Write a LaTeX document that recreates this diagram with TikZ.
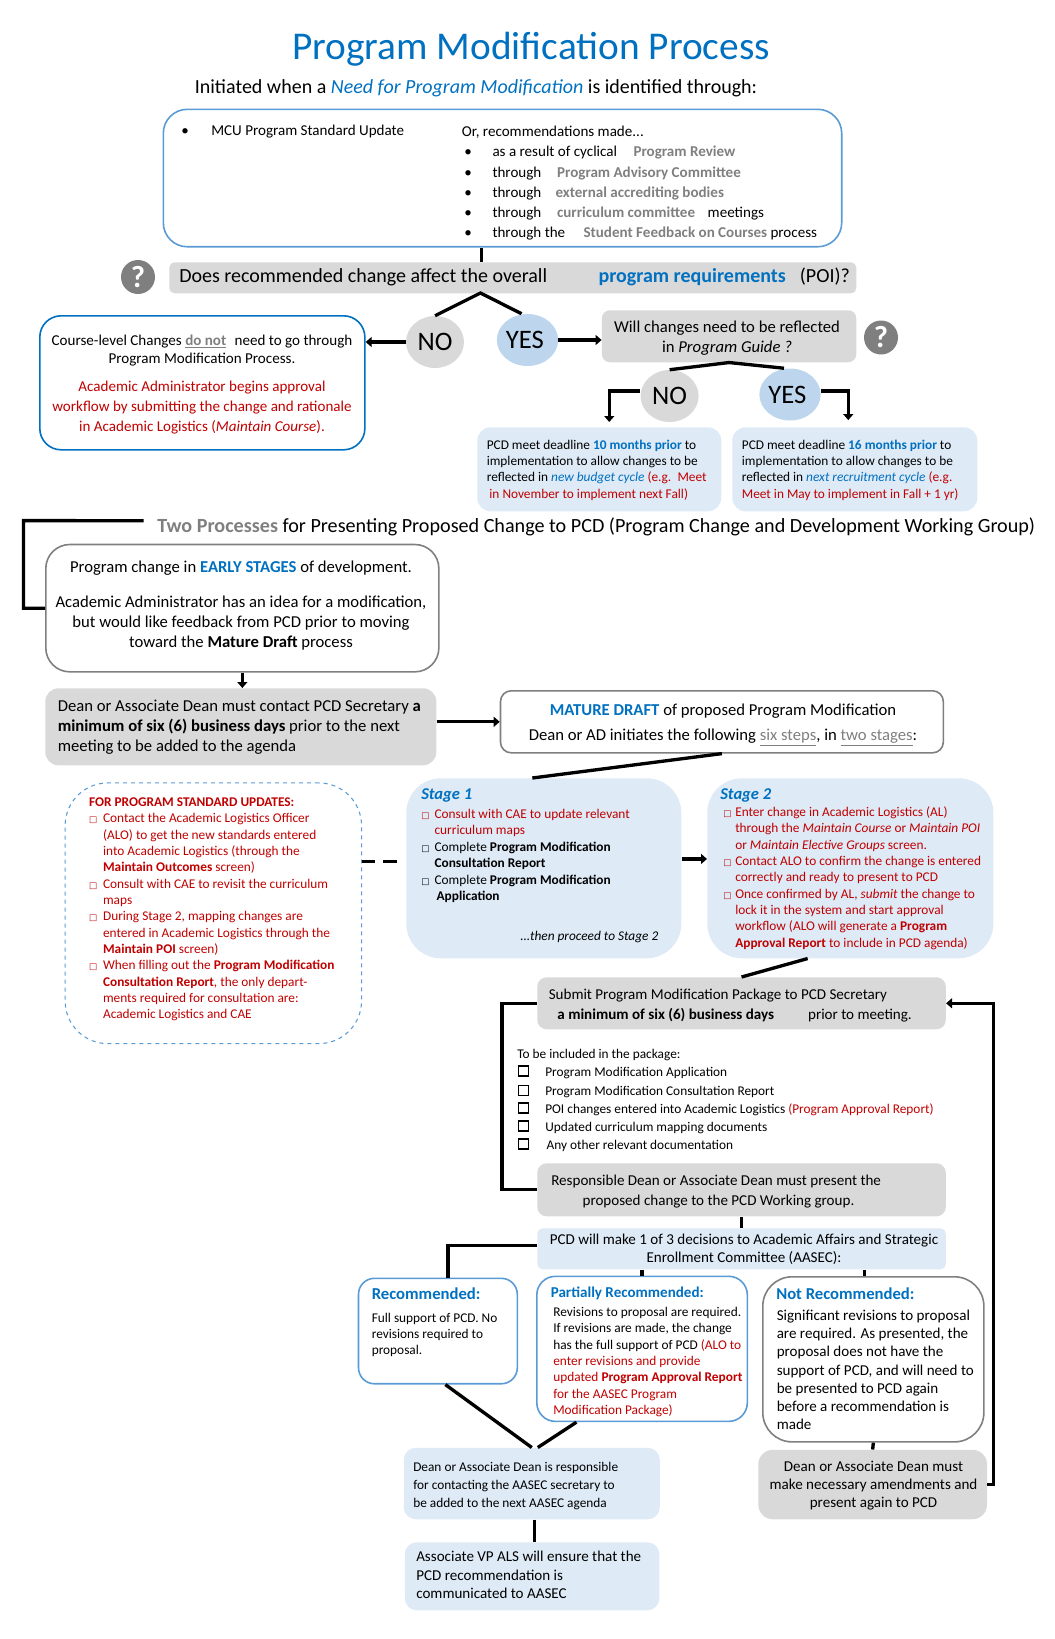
\documentclass[tikz,border=0pt]{standalone}
\usepackage{fontspec}
\setmainfont{Carlito}
\newfontfamily\symfont{DejaVu Sans}
\usetikzlibrary{arrows.meta,shapes.geometric}

\definecolor{titleblue}{HTML}{0070C0}
\definecolor{redtext}{HTML}{C00000}
\definecolor{graytext}{HTML}{7F7F7F}
\definecolor{panelgray}{HTML}{D9D9D9}
\definecolor{panelblue}{HTML}{DEEAF6}
\definecolor{circleblue}{HTML}{BDD6EE}
\definecolor{edgeblue}{HTML}{5B9BD5}

\newcommand{\blu}[1]{\textcolor{titleblue}{#1}}
\newcommand{\rd}[1]{\textcolor{redtext}{#1}}
\newcommand{\gry}[1]{\textcolor{graytext}{\textbf{#1}}}
\newcommand{\upto}[2]{\makebox[#1pt][l]{#2}}
\newcommand{\sq}{{\symfont\fontsize{6.5}{6.5}\selectfont □}}

\tikzset{
  panel/.style={anchor=north west,inner sep=0pt},
  graypanel/.style={panel,fill=panelgray},
  bluepanel/.style={panel,fill=panelblue},
  choice/.style={ellipse,inner sep=0pt,minimum width=43.5pt,minimum height=39pt,font=\fontsize{20}{24}\selectfont},
  qmark/.style={circle,fill=graytext,text=white,inner sep=0pt,minimum size=25.5pt,font=\bfseries\fontsize{23}{23}\selectfont},
  conn/.style={line width=2.5pt,black},
  arrowconn/.style={conn,-{Triangle[width=7.5pt,length=4.5pt]}},
  txt/.style={anchor=west,inner sep=0pt,align=left},
  ctxt/.style={anchor=center,inner sep=0pt,align=center},
  tick/.style={draw=black,line width=1.2pt,inner sep=0pt,minimum size=7.6pt},
  sizeA/.style={font=\fontsize{11.3}{15.15}\selectfont},
  sizeB/.style={font=\fontsize{10}{12.25}\selectfont},
  sizeC/.style={font=\fontsize{12.5}{15}\selectfont},
  sizeD/.style={font=\fontsize{10}{13.6}\selectfont},
  sizeE/.style={font=\fontsize{11.3}{13.7}\selectfont}
}

\begin{document}
\begin{tikzpicture}[x=0.75pt,y=0.75pt,yscale=-1,xscale=1]
\useasboundingbox (0,0) rectangle (1055,1639);

% Panels
\node[panel,draw=edgeblue,line width=1.2pt,rounded corners=18pt,minimum width=508.8pt,minimum height=103.1pt] (sources) at (162.5,108.5) {};
\node[graypanel,rounded corners=4pt,minimum width=515.3pt,minimum height=23.3pt] (overall) at (169,262) {};
\node[panel,draw=titleblue,line width=1.2pt,rounded corners=16pt,minimum width=243.8pt,minimum height=100.5pt] (course) at (39,315) {};
\node[graypanel,rounded corners=6pt,minimum width=190.8pt,minimum height=39pt] (guide) at (601.6,310) {};
\node[bluepanel,rounded corners=10pt,minimum width=183pt,minimum height=63pt] (budget) at (477,427) {};
\node[bluepanel,rounded corners=10pt,minimum width=183.8pt,minimum height=63pt] (recruit) at (732,427) {};
\node[panel,draw=graytext,line width=1.2pt,rounded corners=18pt,minimum width=294.8pt,minimum height=95.5pt] (early) at (45,543.7) {};
\node[graypanel,rounded corners=10pt,minimum width=293.3pt,minimum height=57.8pt] (contact) at (45,688) {};
\node[panel,draw=graytext,line width=1.2pt,rounded corners=8pt,minimum width=332.1pt,minimum height=46.5pt] (mature) at (499.7,690) {};
\node[panel,draw=edgeblue,dashed,line width=.8pt,rounded corners=32pt,minimum width=222.3pt,minimum height=195.5pt] (standard) at (64.6,782.4) {};
\node[bluepanel,rounded corners=26pt,minimum width=206.3pt,minimum height=135pt] (stageone) at (406,778) {};
\node[bluepanel,rounded corners=26pt,minimum width=214.6pt,minimum height=135pt] (stagetwo) at (707,778) {};
\node[graypanel,rounded corners=7pt,minimum width=306.4pt,minimum height=39pt] (submit) at (537,977) {};
\node[graypanel,rounded corners=7pt,minimum width=306.4pt,minimum height=39.8pt] (present) at (537,1163) {};
\node[bluepanel,rounded corners=4pt,minimum width=306.4pt,minimum height=30.8pt] (decide) at (537,1228) {};
\node[panel,draw=edgeblue,line width=1.2pt,rounded corners=12pt,minimum width=119.1pt,minimum height=79.1pt] (rec) at (357.7,1277.5) {};
\node[panel,draw=edgeblue,line width=1.2pt,rounded corners=14pt,minimum width=157.9pt,minimum height=108.8pt] (partial) at (536,1275.5) {};
\node[panel,draw=graytext,line width=1.2pt,rounded corners=22pt,minimum width=165.8pt,minimum height=123.8pt] (notrec) at (762,1276) {};
\node[bluepanel,rounded corners=9pt,minimum width=192pt,minimum height=53.6pt] (agenda) at (403.5,1447.5) {};
\node[bluepanel,rounded corners=9pt,minimum width=191pt,minimum height=51pt] (vpals) at (404.5,1542) {};
\node[graypanel,rounded corners=11pt,minimum width=171.6pt,minimum height=52.1pt] (amend) at (758,1449.5) {};

% Choices and question marks
\node[choice,fill=panelgray] (noA) at (435,342) {NO};
\node[choice,fill=circleblue] (yesA) at (527.5,340) {YES\kern4pt};
\node[choice,fill=panelgray] (noB) at (669.6,396) {NO};
\node[choice,fill=circleblue] (yesB) at (790,394.5) {YES\kern4pt};
\node[qmark] (askA) at (138,277) {?};
\node[qmark] (askB) at (881,337.5) {?};

% Text Nodes
\node[ctxt,text=titleblue,font=\fontsize{29.5}{32}\selectfont] (title) at (531,49) {Program Modification Process};
\node[ctxt,font=\fontsize{15}{17}\selectfont] (initiated) at (476,88.5) {Initiated when a \blu{\textit{Need for Program Modification}} is identified through:};
\node[txt,sizeA] (mcu) at (181,131.5) {\upto{22.5}{•}MCU Program Standard Update};
\node[txt,sizeA] (made) at (461.6,183.2) {Or, recommendations made...\\
\upto{23}{\,•}\upto{105.75}{as a result of cyclical}\gry{Program Review}\\
\upto{23}{\,•}\upto{48.4}{through}\gry{Program Advisory Committee}\\
\upto{23}{\,•}\upto{47.25}{through}\gry{external accrediting bodies}\\
\upto{23}{\,•}\upto{48.4}{through}\upto{113}{\gry{curriculum committee}}meetings\\
\upto{23}{\,•}\upto{68.25}{through the}\gry{Student Feedback on Courses} process};
\node[txt,font=\fontsize{15}{17}\selectfont] (overalltext) at (179,277) {\upto{314.5}{Does recommended change affect the overall}\upto{151}{\blu{\textbf{program requirements}}}(POI)?};
\node[ctxt,sizeA] (coursetext) at (202,384.5) {Course-level Changes \gry{\underline{do not}}\,\, need to go through\\[-1pt]
Program Modification Process.\\[5.6pt]
\rd{Academic Administrator begins approval}\\
\rd{workflow by submitting the change and rationale}\\
\rd{in Academic Logistics (\textit{Maintain Course}).}};
\node[ctxt,sizeC] (guidetext) at (727,338) {Will changes need to be reflected\\in \textit{Program Guide ?}};
\node[txt,sizeB] (budgettext) at (486.5,470) {PCD meet deadline \blu{\textbf{10 months prior}} to\\
implementation to allow changes to be\\
reflected in \blu{\textit{new budget cycle}} \rd{(e.g.\, Meet}\\
\hspace*{2pt}\rd{in November to implement next Fall)}};
\node[txt,sizeB] (recruittext) at (741.6,470) {PCD meet deadline \blu{\textbf{16 months prior}} to\\
implementation to allow changes to be\\
reflected in \blu{\textit{next recruitment cycle}} \rd{(e.g.}\\
\rd{Meet in May to implement in Fall + 1 yr)}};
\node[txt,font=\fontsize{15.1}{17}\selectfont] (twoproc) at (157,527) {\gry{Two Processes} for Presenting Proposed Change to PCD (Program Change and Development Working Group)};
\node[ctxt,sizeC] (earlytext) at (241,605.5) {Program change in \blu{\textbf{EARLY STAGES}} of development.\\[11.5pt]
Academic Administrator has an idea for a modification,\\
but would like feedback from PCD prior to moving\\
toward the \textbf{Mature Draft} process};
\node[txt,sizeC] (contacttext) at (57.5,727) {Dean or Associate Dean must contact PCD Secretary \textbf{a}\\
\textbf{minimum of six (6) business days} prior to the next\\
meeting to be added to the agenda};
\node[ctxt,font=\fontsize{12.5}{19}\selectfont] (maturetext) at (723,725) {\blu{\textbf{MATURE DRAFT}} of proposed Program Modification\\
Dean or AD initiates the following \textcolor{graytext}{\underline{six steps}}, in \textcolor{graytext}{\underline{two stages}}:};
\node[txt,sizeB,text=redtext] (standardtext) at (88.8,909.5) {\textbf{FOR PROGRAM STANDARD UPDATES:}\\
\upto{10.5}{\sq}Contact the Academic Logistics Officer\\
\hspace*{10.5pt}(ALO) to get the new standards entered\\
\hspace*{10.5pt}into Academic Logistics (through the\\
\hspace*{10.5pt}\textbf{Maintain Outcomes} screen)\\
\upto{10.5}{\sq}Consult with CAE to revisit the curriculum\\
\hspace*{10.5pt}maps\\
\upto{10.5}{\sq}During Stage 2, mapping changes are\\
\hspace*{10.5pt}entered in Academic Logistics through the\\
\hspace*{10.5pt}\textbf{Maintain POI} screen)\\
\upto{10.5}{\sq}When filling out the \textbf{Program Modification}\\
\hspace*{10.5pt}\textbf{Consultation Report}, the only depart-\\
\hspace*{10.5pt}ments required for consultation are:\\
\hspace*{10.5pt}Academic Logistics and CAE};
\node[txt,text=titleblue,font=\bfseries\itshape\fontsize{12.4}{14}\selectfont] (stageonehead) at (421,795.5) {Stage 1};
\node[txt,sizeB] (stageonetext) at (421,856) {\upto{10}{\rd{\sq}}\rd{Consult with CAE to update relevant}\\
\hspace*{10pt}\rd{curriculum maps}\\
\upto{10}{\sq}Complete \textbf{Program Modification}\\
\hspace*{10pt}\textbf{Consultation Report}\\[.6pt]
\upto{10}{\sq}Complete \textbf{Program Modification}\\
\hspace*{11.5pt}\textbf{Application}};
\node[txt,sizeB] (proceed) at (520,937) {\textit{...then proceed to Stage 2}};
\node[txt,text=titleblue,font=\bfseries\itshape\fontsize{12.4}{14}\selectfont] (stagetwohead) at (720,795) {Stage 2};
\node[txt,sizeB,text=redtext] (stagetwotext) at (723,878) {\upto{9}{\sq}Enter change in Academic Logistics (AL)\\
\hspace*{9pt}through the \textit{Maintain Course} or \textit{Maintain POI}\\
\hspace*{9pt}or \textit{Maintain Elective Groups} screen.\\
\upto{9}{\sq}Contact ALO to confirm the change is entered\\
\hspace*{9pt}correctly and ready to present to PCD\\
\upto{9}{\sq}Once confirmed by AL, \textit{submit} the change to\\
\hspace*{9pt}lock it in the system and start approval\\
\hspace*{9pt}workflow (ALO will generate a \textbf{Program}\\
\hspace*{9pt}\textbf{Approval Report} to include in PCD agenda)};
\node[txt,font=\fontsize{11.3}{15}\selectfont] (submittext) at (548.5,1005.5) {Submit Program Modification Package to PCD Secretary\\
\hspace*{6.5pt}\upto{188}{\textbf{a minimum of six (6) business days}}prior to meeting.};
\node[txt,sizeD] (packagetext) at (517,1100.5) {To be included in the package:\\
\hspace*{21pt}Program Modification Application\\
\hspace*{21pt}Program Modification Consultation Report\\
\hspace*{21pt}POI changes entered into Academic Logistics \rd{(Program Approval Report)}\\
\hspace*{21pt}Updated curriculum mapping documents\\
\hspace*{22pt}Any other relevant documentation};
\foreach \n/\y in {1/1071,2/1090.5,3/1108,4/1126,5/1144}
  \node[tick] (tick\n) at (523.5,\y) {};
\node[txt,font=\fontsize{11.3}{15.2}\selectfont] (presenttext) at (551,1191.7) {Responsible Dean or Associate Dean must present the\\
\hspace*{23.5pt}proposed change to the PCD Working group.};
\node[ctxt,font=\fontsize{11.3}{13.5}\selectfont] (decidetext) at (744,1249.5) {PCD will make 1 of 3 decisions to Academic Affairs and Strategic\\
Enrollment Committee (AASEC):};
\node[txt,text=titleblue,font=\bfseries\fontsize{12.5}{14}\selectfont] (rechead) at (371.5,1293.2) {Recommended:};
\node[txt,sizeB] (rectext) at (371.5,1335) {Full support of PCD. No\\revisions required to\\proposal.};
\node[txt,text=titleblue,font=\bfseries\fontsize{11.3}{14}\selectfont] (partialhead) at (550.5,1293.4) {Partially Recommended:};
\node[txt,sizeB] (partialtext) at (553,1362) {Revisions to proposal are required.\\
If revisions are made, the change\\
has the full support of PCD \rd{(ALO to}\\
\rd{enter revisions and provide}\\
\rd{updated \textbf{Program Approval Report}}\\
\rd{for the AASEC Program}\\
\rd{Modification Package)}};
\node[txt,text=titleblue,font=\bfseries\fontsize{12.5}{14}\selectfont] (nothead) at (776,1293.2) {Not Recommended:};
\node[txt,sizeE] (nottext) at (776.5,1370) {Significant revisions to proposal\\
are required. As presented, the\\
proposal does not have the\\
support of PCD, and will need to\\
be presented to PCD again\\
before a recommendation is\\
made};
\node[txt,font=\fontsize{10}{13.5}\selectfont] (agendatext) at (413,1486) {Dean or Associate Dean is responsible\\
for contacting the AASEC secretary to\\
be added to the next AASEC agenda};
\node[txt,sizeE] (vpalstext) at (416,1575) {Associate VP ALS will ensure that the\\
PCD recommendation is\\
communicated to AASEC};
\node[ctxt,sizeE] (amendtext) at (873.5,1485.5) {Dean or Associate Dean must\\
make necessary amendments and\\
present again to PCD};

% Connectors
\coordinate (peak) at (480.5,293);
\coordinate (cornerTwo) at (23.5,520.6);
\draw[conn] ([xshift=-16pt]sources.south) -- ([xshift=-16pt]sources.south |- overall.north);
\draw[conn] (noA.north) -- (peak) -- ([xshift=-4.5pt]yesA.north);
\draw[arrowconn] (noA.west) -- (noA.west -| course.east);
\draw[arrowconn] (yesA.east) -- (yesA.east -| guide.west);
\draw[conn] (noB.north) -- (guide.south) -- ([xshift=-4.5pt]yesB.north);
\draw[arrowconn] ([yshift=-3.75pt]noB.west) -| ([shift={(7.5pt,-3.75pt)}]budget.north);
\draw[arrowconn] ([yshift=-2.6pt]yesB.east) -| ([shift={(-4.9pt,-5.2pt)}]recruit.north);
\draw[conn] ([shift={(-10pt,-4.7pt)}]twoproc.west) -- (cornerTwo) |- (early.west);
\draw[arrowconn] (early.south) -- (contact.north -| early.south);
\draw[arrowconn] (contact.east |- mature.west) -- (mature.west);
\draw[conn] (mature.south) -- ([xshift=-8.6pt]stageone.north);
\draw[arrowconn] ([yshift=-7pt]stageone.east) -- ([yshift=-7pt]stageone.east -| stagetwo.west);
\draw[conn,dash pattern=on 10pt off 6pt] ([yshift=-38.8pt]standard.east) -- ++(27pt,0);
\draw[conn] ([xshift=-32pt]stagetwo.south) -- (submit.north);
\draw[conn] (submit.west) -- ++(-26.25pt,0) |- (present.west);
\draw[conn] (present.south) -- (decide.north);
\draw[conn] ([yshift=-2.6pt]decide.west) -| ([xshift=7.5pt]rec.north);
\draw[conn] (partial.north |- decide.south) -- (partial.north);
\draw[conn] ([xshift=-6.4pt]notrec.north |- decide.south) -- ([xshift=-6.4pt]notrec.north);
\draw[conn] ([xshift=5.6pt]rec.south) -- (agenda.north);
\draw[conn] ([xshift=-49.2pt]partial.south) -- ([xshift=4.5pt]agenda.north);
\draw[conn] ([xshift=2pt]agenda.south) -- ([xshift=2pt]agenda.south |- vpals.north);
\draw[conn] (notrec.south) -- (amend.north);
\draw[arrowconn] (amend.east) -- ++(4.6pt,0) |- (submit.east);

\end{tikzpicture}
\end{document}
